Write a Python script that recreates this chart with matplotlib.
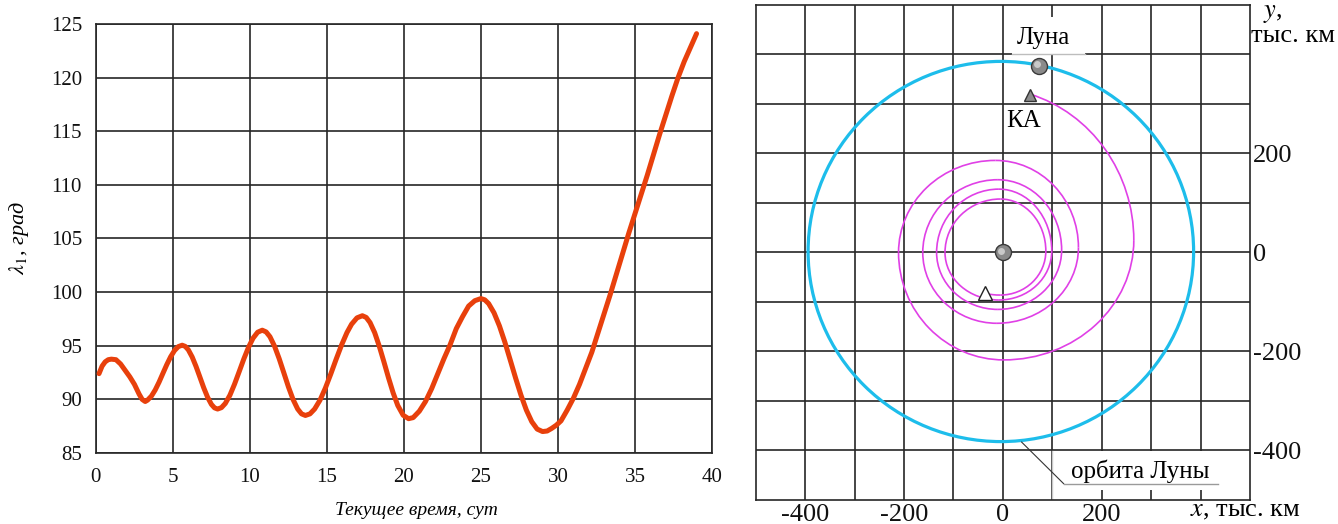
import numpy as np
import matplotlib
matplotlib.use("Agg")
import matplotlib.pyplot as plt
from matplotlib.patches import Arc, Ellipse, Rectangle

plt.rcParams["font.family"] = ["Liberation Serif", "DejaVu Serif"]
plt.rcParams["mathtext.fontset"] = "stix"
plt.rcParams["axes.unicode_minus"] = False

# ---------------------------------------------------------------
# Данные: левая панель, λ1 (град) от текущего времени (сут)
# ---------------------------------------------------------------
t_sut = [0.2, 0.4, 0.6, 0.8, 1.0, 1.3, 1.6, 1.9, 2.2, 2.5, 2.8, 3.0, 3.2,
         3.35, 3.6, 3.85, 4.1, 4.35, 4.6, 4.85, 5.1, 5.35, 5.6,
         5.8, 6.0, 6.25, 6.5, 6.75, 7.0, 7.25, 7.5, 7.7, 7.9,
         8.15, 8.4, 8.7, 9.0, 9.3, 9.6, 9.9, 10.2, 10.5, 10.8,
         11.05, 11.3, 11.6, 11.9, 12.2, 12.5, 12.8, 13.1, 13.35, 13.6,
         13.9, 14.2, 14.55, 14.9, 15.25, 15.6, 15.95, 16.3, 16.6, 16.95, 17.3,
         17.55, 17.8, 18.1, 18.4, 18.7, 19.0, 19.3, 19.6, 19.95, 20.3,
         20.6, 21.0, 21.4, 21.8, 22.2, 22.6, 23.0, 23.4, 23.8, 24.2, 24.6, 25.0,
         25.25, 25.5, 25.85, 26.2, 26.55, 26.9, 27.25, 27.6, 27.95, 28.3,
         28.65, 29.0, 29.3, 29.6, 29.9, 30.2, 30.6, 31.0, 31.4, 31.8, 32.2,
         32.6, 33.0, 33.4, 33.8, 34.2, 34.6, 35.0, 35.4, 35.8, 36.2, 36.6,
         37.0, 37.4, 37.8, 38.2, 38.6, 39.0]
lambda_grad = [92.4, 93.1, 93.5, 93.7, 93.75, 93.7, 93.3, 92.7, 92.1, 91.4,
               90.5, 90.0, 89.8,
               89.93, 90.3, 90.88, 91.61, 92.43, 93.24, 93.97, 94.55, 94.92,
               95.05,
               94.94, 94.62, 93.95, 93.07, 92.08, 91.08, 90.2, 89.53, 89.21,
               89.1,
               89.23, 89.62, 90.39, 91.42, 92.58, 93.76, 94.83, 95.7, 96.26,
               96.45,
               96.29, 95.84, 94.95, 93.79, 92.48, 91.16, 89.99, 89.1, 88.65,
               88.5,
               88.65, 89.1, 89.93, 91.06, 92.37, 93.75, 95.07, 96.23, 97.01,
               97.6, 97.8,
               97.64, 97.16, 96.22, 94.95, 93.5, 92.0, 90.6, 89.43, 88.52,
               88.2,
               88.3, 88.9, 89.8, 91.0, 92.4, 93.8, 95.1, 96.6, 97.7, 98.7,
               99.2, 99.4,
               99.28, 98.93, 98.07, 96.85, 95.35, 93.68, 91.99, 90.39, 89.0,
               87.92,
               87.23, 87.0, 87.05, 87.3, 87.6, 88.0, 89.0, 90.1, 91.4, 92.9,
               94.4,
               96.2, 98.0, 99.8, 101.7, 103.6, 105.5, 107.3, 109.1, 110.9,
               112.8, 114.7,
               116.5, 118.3, 120.0, 121.5, 122.8, 124.1]

# ---------------------------------------------------------------
# Данные: правая панель (тыс. км)
# ---------------------------------------------------------------
# орбита Луны (эллипс: центр и полуоси)
orbit_center = (-4, 2)
orbit_semi = (390, 384)

# экстремальные точки витков траектории КА (против часовой стрелки):
# L0, B1, R1, T1, L1, B2, ... R5, T6 (T6 - вершина последней дуги)
spiral_x = [-117, -5, 87, -5, -117, -8, 99, -8, -134, -10, 119, -10, -162,
            -12, 153, -15, -211, 2, 265, -30]
spiral_y = [0, -86, 3, 108, 0, -96, 3, 128, 0, -115, 5, 147, 0, -143, 10,
            186, 0, -217, 25, 333]
ka_start = (-37, -81)
ka_end = (55, 319)
moon_pos = (74, 376)
earth_pos = (0, 0)

fig = plt.figure(figsize=(13.38, 5.24), dpi=100)

# ===============================================================
# ЛЕВАЯ ПАНЕЛЬ
# ===============================================================
grid_col = "#262626"
ax1 = fig.add_axes([0.0717, 0.1355, 0.4604, 0.8187])
ax1.plot(t_sut, lambda_grad, color="#E8400C", lw=3.6,
         solid_capstyle="round", solid_joinstyle="round", zorder=3)
ax1.set_xlim(0, 40)
ax1.set_ylim(85, 125)
ax1.set_xticks(range(0, 41, 5))
ax1.set_yticks(range(85, 126, 5))
ax1.grid(True, color=grid_col, lw=1.2)
ax1.set_axisbelow(True)
for sp in ax1.spines.values():
    sp.set_color(grid_col)
    sp.set_linewidth(1.2)
ax1.tick_params(length=0, labelsize=15, colors="#111111")
ax1.tick_params(axis="x", pad=11)
ax1.tick_params(axis="y", pad=10)
ax1.set_xlabel("Текущее время, сут", fontsize=14, style="italic", va="center")
ax1.xaxis.set_label_coords(0.521, -0.135)
ax1.set_ylabel(r"$\lambda_1$, град", fontsize=16, style="italic", labelpad=14)

# ===============================================================
# ПРАВАЯ ПАНЕЛЬ
# ===============================================================
ax2 = fig.add_axes([0.5648, 0.0458, 0.3694, 0.9447])
ax2.set_xlim(-500, 500)
ax2.set_ylim(-500, 500)
ticks = list(range(-400, 500, 100))
ax2.set_xticks(ticks)
ax2.set_yticks(ticks)
ax2.set_xticklabels([str(v) if v in (-400, -200, 0, 200) else "" for v in ticks])
ax2.set_yticklabels([str(v) if v in (-400, -200, 0, 200) else "" for v in ticks])
ax2.yaxis.tick_right()
ax2.grid(True, color=grid_col, lw=1.2)
ax2.set_axisbelow(True)
for sp in ax2.spines.values():
    sp.set_color(grid_col)
    sp.set_linewidth(1.2)
ax2.tick_params(length=0, labelsize=19, colors="#111111")
ax2.tick_params(axis="x", pad=3)
ax2.tick_params(axis="y", pad=2)

# белые подложки под подписи
ax2.add_patch(Rectangle((18, 400), 149, 75, facecolor="white",
                        edgecolor="none", zorder=2))
ax2.add_patch(Rectangle((100, -480), 400, 78, facecolor="white",
                        edgecolor="none", zorder=2))
ax2.plot([100, 100], [-402, -500], color="#c8c8c8", lw=1, zorder=2.2)
ax2.plot([18, 167], [400, 400], color="#bdbdbd", lw=1, zorder=2.2)

# орбита Луны
ax2.add_patch(Ellipse(orbit_center, 2 * orbit_semi[0], 2 * orbit_semi[1],
                      fill=False, edgecolor="#1DBDEB", lw=2.3, zorder=3))

# траектория КА: четвертьдуги между соседними экстремумами
spiral_col = "#E040E6"
n_arcs = len(spiral_x) - 1
for i in range(n_arcs):
    x0, y0 = spiral_x[i], spiral_y[i]
    x1, y1 = spiral_x[i + 1], spiral_y[i + 1]
    k = i % 4  # 0: L->B, 1: B->R, 2: R->T, 3: T->L
    if k in (0, 2):
        cx, cy = x1, y0
    else:
        cx, cy = x0, y1
    th1 = (180 + 90 * k) % 360
    th2 = th1 + 90
    if i == 0:
        th1 = np.degrees(np.arctan2(ka_start[1] - cy, ka_start[0] - cx)) % 360
    if i == n_arcs - 1:
        th2 = np.degrees(np.arctan2(ka_end[1] - cy, ka_end[0] - cx))
    ax2.add_patch(Arc((cx, cy), 2 * abs(x1 - x0), 2 * abs(y1 - y0),
                      theta1=th1, theta2=th2, color=spiral_col, lw=1.2,
                      zorder=3))

# выноска "орбита Луны"
ax2.plot([38, 123], [-383, -467], color="#333333", lw=0.8, zorder=4)
ax2.plot([123, 436], [-467, -467], color="#9a9a9a", lw=1.0, zorder=4)
ax2.text(278, -455, "орбита Луны", fontsize=18, ha="center", va="baseline",
         zorder=5)

# Земля, Луна, КА
for pos in (earth_pos, moon_pos):
    ax2.plot(*pos, marker="o", ms=11.5, mfc="#8a8a8a", mec="#3a3a3a",
             mew=1.0, zorder=6)
    ax2.plot(pos[0] - 4, pos[1] + 4, marker="o", ms=5, mfc="#c9c9c9",
             mec="none", zorder=7)
ax2.plot(*ka_end, marker="^", ms=9, mfc="#8c8c8c", mec="#333333", mew=1.0,
         zorder=6)
ax2.plot(*ka_start, marker="^", ms=10, mfc="white", mec="#222222", mew=1.0,
         zorder=6)

ax2.text(82, 422, "Луна", fontsize=18, ha="center", va="baseline", zorder=5)
ax2.text(42, 254, "КА", fontsize=18, ha="center", va="baseline", zorder=5)

# подписи осей
ax2.text(1.046, 0.982, "$y$,", transform=ax2.transAxes, fontsize=19,
         ha="center", va="center")
ax2.text(1.088, 0.937, "тыс. км", transform=ax2.transAxes, fontsize=19,
         ha="center", va="center")
ax2.text(0.99, -0.022, "$x$, тыс. км", transform=ax2.transAxes, fontsize=19,
         ha="center", va="center")

fig.savefig("out.png", dpi=100)
